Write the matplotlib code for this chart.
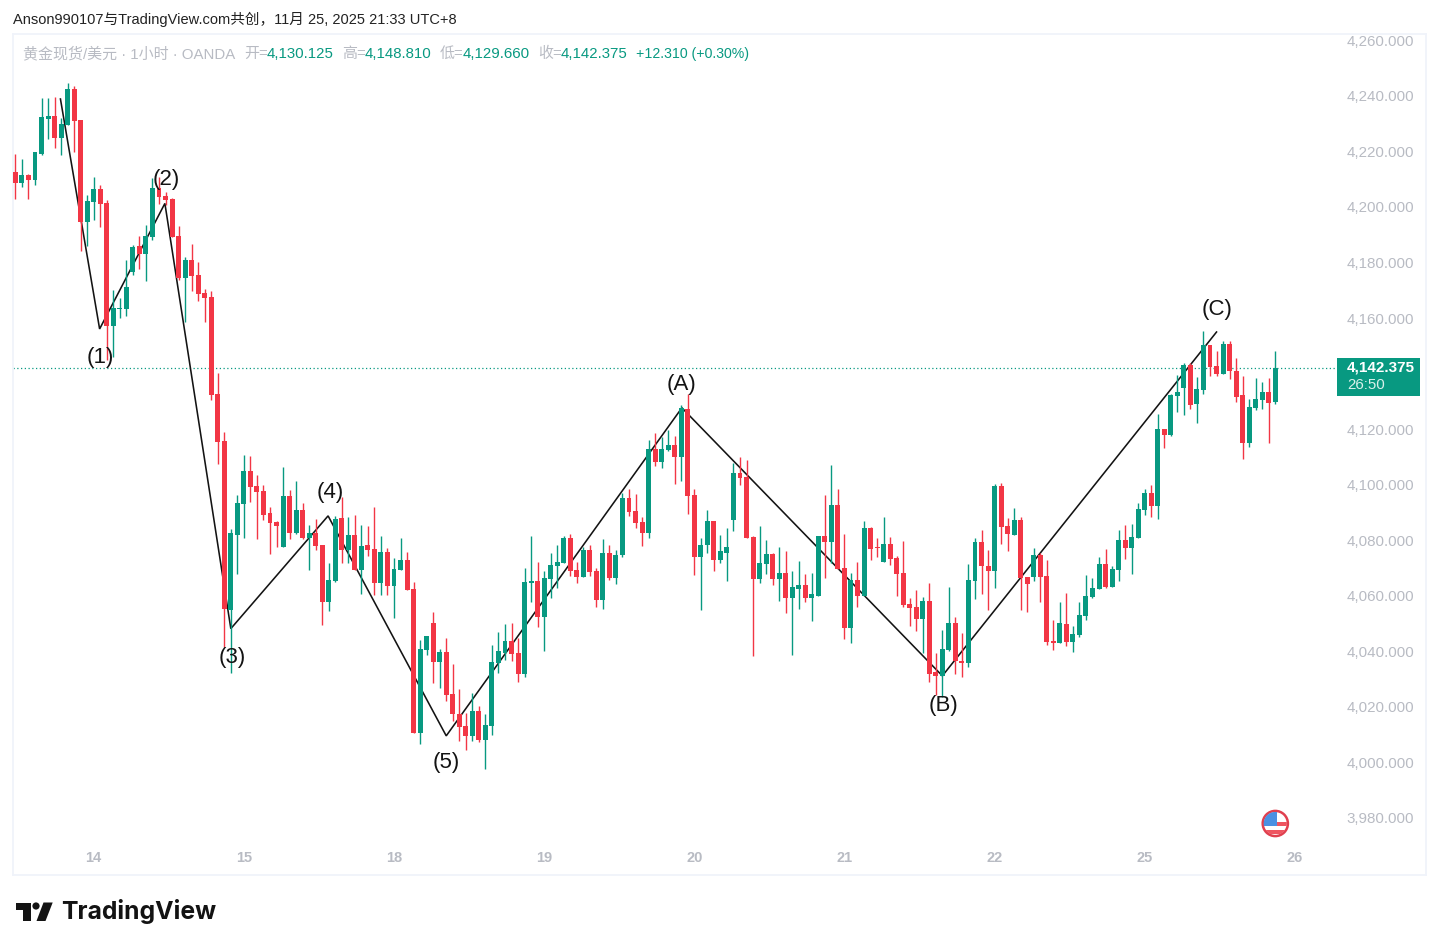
#!/usr/bin/env python3
"""XAUUSD 1h candles with a hand drawn wave count, TradingView snapshot look."""

import matplotlib
matplotlib.use("Agg")
import matplotlib.pyplot as plt
from matplotlib.patches import Circle, Polygon, Rectangle
from matplotlib.transforms import ScaledTranslation

plt.rcParams["font.family"] = ["Liberation Sans", "Noto Sans CJK SC"]

UP = "#089981"
DOWN = "#f23645"
GREY = "#b8bbc3"
BORDER = "#f0f3fa"

opens = [
    4213.1, 4209.3, 4212.0, 4210.2, 4219.7, 4232.2, 4233.3, 4225.3, 4230.0, 4243.0,
    4231.8, 4195.1, 4202.3, 4207.0, 4201.9, 4157.6, 4163.8, 4163.8, 4177.1, 4186.4,
    4183.6, 4189.7, 4207.3, 4204.4, 4203.4, 4190.0, 4174.9, 4181.4, 4176.0, 4169.5,
    4168.1, 4133.2, 4116.2, 4055.5, 4082.4, 4093.6, 4105.4, 4100.0, 4098.2, 4090.3,
    4087.1, 4078.1, 4096.4, 4083.1, 4091.4, 4081.3, 4083.1, 4078.8, 4058.3, 4065.8,
    4088.5, 4077.0, 4082.4, 4069.8, 4078.8, 4077.4, 4065.1, 4076.3, 4064.0, 4069.8,
    4073.4, 4063.0, 4011.2, 4041.0, 4050.7, 4036.7, 4040.3, 4025.2, 4018.0, 4013.6,
    4010.0, 4019.0, 4008.6, 4013.6, 4036.3, 4039.9, 4044.2, 4039.9, 4032.4, 4065.1,
    4065.8, 4052.9, 4066.6, 4071.2, 4072.3, 4081.3, 4069.8, 4067.3, 4077.0, 4069.4,
    4059.0, 4075.9, 4066.9, 4075.2, 4095.8, 4091.0, 4087.1, 4083.1, 4113.4, 4108.7,
    4113.0, 4114.8, 4110.5, 4127.8, 4096.8, 4074.5, 4078.8, 4087.4, 4073.4, 4075.9,
    4087.8, 4104.7, 4103.3, 4081.7, 4066.6, 4072.0, 4075.6, 4066.6, 4068.7, 4059.7,
    4063.0, 4064.4, 4059.7, 4060.4, 4082.0, 4079.9, 4093.2, 4070.5, 4048.9, 4066.2,
    4060.4, 4084.9, 4078.1, 4072.7, 4079.2, 4074.1, 4068.7, 4057.6, 4056.5, 4052.2,
    4058.6, 4033.1, 4031.6, 4041.0, 4050.7, 4037.0, 4036.3, 4065.8, 4079.9, 4071.2,
    4069.4, 4100.0, 4085.6, 4082.4, 4087.8, 4067.3, 4067.3, 4075.2, 4067.6, 4044.2,
    4043.5, 4050.4, 4043.9, 4046.4, 4053.2, 4060.1, 4063.0, 4072.0, 4063.7, 4069.8,
    4080.6, 4077.7, 4081.3, 4091.4, 4097.5, 4092.9, 4120.6, 4118.4, 4132.4, 4135.3,
    4143.6, 4129.6, 4134.6, 4150.8, 4143.2, 4140.4, 4151.2, 4141.4, 4132.8, 4115.5,
    4128.1, 4131.0, 4133.9, 4130.125,
]
highs = [
    4219.6, 4217.8, 4212.4, 4220.3, 4239.7, 4239.7, 4240.0, 4232.5, 4245.0, 4244.0,
    4231.8, 4205.0, 4211.2, 4208.4, 4203.2, 4170.6, 4167.6, 4181.4, 4186.8, 4190.0,
    4194.0, 4210.8, 4211.4, 4205.9, 4203.7, 4193.6, 4182.4, 4187.2, 4180.7, 4171.1,
    4170.2, 4140.6, 4119.4, 4084.4, 4096.8, 4111.2, 4110.8, 4104.0, 4100.4, 4092.5,
    4087.4, 4106.9, 4098.6, 4101.8, 4093.9, 4086.0, 4088.2, 4078.8, 4072.3, 4089.2,
    4096.1, 4088.9, 4089.6, 4086.0, 4085.6, 4092.5, 4082.0, 4077.7, 4074.1, 4081.3,
    4076.3, 4065.5, 4044.6, 4046.0, 4054.7, 4041.4, 4045.3, 4036.0, 4027.0, 4018.3,
    4025.5, 4020.8, 4018.0, 4042.8, 4047.5, 4050.4, 4050.7, 4045.3, 4070.5, 4082.0,
    4072.7, 4069.4, 4075.9, 4078.8, 4082.0, 4082.8, 4072.7, 4078.1, 4078.8, 4070.5,
    4081.0, 4078.8, 4077.0, 4097.7, 4098.9, 4097.2, 4088.9, 4116.6, 4119.1, 4117.7,
    4120.2, 4118.0, 4129.2, 4133.2, 4099.0, 4081.3, 4091.4, 4087.4, 4082.4, 4084.9,
    4108.2, 4110.5, 4109.4, 4082.0, 4085.6, 4080.6, 4075.9, 4078.1, 4076.6, 4069.4,
    4073.0, 4068.4, 4068.7, 4082.0, 4096.8, 4107.6, 4099.0, 4082.8, 4068.7, 4072.7,
    4087.4, 4085.3, 4081.3, 4088.9, 4081.7, 4074.8, 4080.2, 4059.7, 4062.6, 4060.1,
    4065.1, 4039.9, 4048.2, 4063.7, 4052.9, 4047.1, 4072.0, 4081.3, 4084.2, 4077.0,
    4100.8, 4101.1, 4088.5, 4092.1, 4088.9, 4067.4, 4077.7, 4075.9, 4073.4, 4051.8,
    4058.3, 4061.5, 4049.6, 4058.3, 4068.0, 4066.9, 4074.5, 4077.4, 4071.2, 4084.2,
    4086.0, 4086.4, 4093.8, 4099.0, 4100.4, 4126.0, 4120.6, 4133.2, 4140.0, 4144.3,
    4144.3, 4139.3, 4155.8, 4150.8, 4148.6, 4152.2, 4152.2, 4146.1, 4139.6, 4131.4,
    4138.9, 4137.5, 4138.9, 4148.81,
]
lows = [
    4203.5, 4207.8, 4203.5, 4208.4, 4219.3, 4225.0, 4221.7, 4219.2, 4230.0, 4220.4,
    4184.6, 4186.4, 4195.8, 4193.3, 4145.4, 4146.6, 4160.4, 4161.2, 4176.0, 4178.2,
    4173.8, 4188.6, 4201.6, 4201.2, 4189.7, 4174.2, 4159.2, 4170.2, 4166.6, 4159.1,
    4131.0, 4108.0, 4042.2, 4032.6, 4068.4, 4081.3, 4094.3, 4081.0, 4087.8, 4075.6,
    4078.1, 4078.1, 4081.0, 4082.8, 4081.0, 4069.8, 4077.0, 4050.0, 4055.0, 4065.6,
    4072.3, 4072.3, 4069.8, 4061.2, 4074.8, 4060.8, 4060.8, 4060.8, 4052.5, 4069.8,
    4062.6, 4011.2, 4007.2, 4039.2, 4029.1, 4027.3, 4022.6, 4015.4, 4008.2, 4005.0,
    4008.2, 4007.9, 3998.2, 4010.4, 4032.7, 4037.4, 4037.0, 4029.5, 4031.3, 4058.3,
    4049.3, 4040.6, 4059.7, 4063.3, 4072.2, 4067.6, 4065.1, 4067.3, 4067.6, 4056.5,
    4055.8, 4066.2, 4064.8, 4074.5, 4089.3, 4085.0, 4078.4, 4081.3, 4107.2, 4106.5,
    4112.5, 4100.8, 4101.8, 4090.0, 4068.0, 4055.4, 4075.9, 4069.4, 4072.3, 4065.8,
    4083.8, 4100.4, 4081.3, 4038.8, 4065.1, 4068.4, 4064.4, 4058.6, 4054.3, 4039.2,
    4055.8, 4058.3, 4051.4, 4060.4, 4066.9, 4072.3, 4070.2, 4045.0, 4043.5, 4056.5,
    4060.4, 4073.4, 4074.5, 4072.7, 4071.6, 4060.4, 4056.5, 4049.6, 4047.8, 4039.9,
    4029.5, 4024.8, 4024.2, 4040.6, 4032.4, 4031.3, 4034.9, 4059.4, 4061.2, 4055.4,
    4063.3, 4079.2, 4076.6, 4082.4, 4055.4, 4054.7, 4065.8, 4058.3, 4042.8, 4041.0,
    4043.5, 4042.4, 4040.3, 4045.7, 4051.8, 4059.7, 4063.0, 4063.3, 4063.7, 4065.8,
    4073.8, 4068.4, 4081.3, 4089.6, 4088.9, 4088.2, 4113.7, 4118.0, 4126.7, 4125.6,
    4127.8, 4122.7, 4133.2, 4139.6, 4139.6, 4140.4, 4138.6, 4130.3, 4109.8, 4114.1,
    4127.4, 4127.8, 4115.5, 4129.66,
]
closes = [
    4209.3, 4211.9, 4210.2, 4220.3, 4232.9, 4233.3, 4225.3, 4230.4, 4243.0, 4231.4,
    4195.1, 4202.6, 4207.0, 4201.6, 4157.6, 4164.1, 4164.1, 4171.7, 4186.1, 4183.6,
    4190.0, 4207.3, 4204.1, 4203.0, 4189.7, 4174.9, 4181.4, 4175.6, 4169.2, 4167.7,
    4133.0, 4116.0, 4055.9, 4083.1, 4093.9, 4105.4, 4099.7, 4097.9, 4089.6, 4086.7,
    4085.6, 4096.4, 4083.1, 4091.4, 4081.3, 4083.1, 4078.4, 4058.3, 4066.2, 4088.2,
    4077.0, 4082.4, 4069.8, 4078.4, 4077.0, 4065.1, 4076.3, 4064.0, 4070.2, 4073.4,
    4062.6, 4011.2, 4041.4, 4046.0, 4036.7, 4040.3, 4024.8, 4018.0, 4013.3, 4010.0,
    4019.0, 4008.6, 4014.0, 4036.7, 4040.6, 4044.2, 4039.6, 4032.4, 4065.5, 4065.8,
    4052.9, 4066.9, 4071.6, 4072.7, 4081.3, 4069.4, 4067.3, 4077.0, 4069.1, 4059.0,
    4075.9, 4066.9, 4075.2, 4095.8, 4090.8, 4086.7, 4083.1, 4113.4, 4108.7, 4113.4,
    4114.8, 4110.5, 4128.1, 4096.4, 4074.5, 4078.8, 4087.4, 4073.4, 4076.6, 4078.1,
    4104.7, 4102.9, 4081.3, 4066.6, 4072.3, 4075.6, 4066.6, 4068.7, 4059.7, 4063.7,
    4064.4, 4059.7, 4061.2, 4082.0, 4079.9, 4093.2, 4070.2, 4048.9, 4066.2, 4060.4,
    4084.9, 4077.4, 4077.7, 4079.2, 4073.8, 4068.4, 4057.2, 4056.1, 4052.2, 4058.6,
    4032.4, 4031.6, 4041.4, 4050.7, 4037.0, 4036.4, 4066.2, 4079.9, 4071.2, 4069.4,
    4100.0, 4085.3, 4082.8, 4087.8, 4066.9, 4064.8, 4075.2, 4067.3, 4043.9, 4043.5,
    4050.7, 4043.9, 4046.8, 4053.6, 4060.4, 4063.3, 4072.0, 4063.7, 4070.2, 4080.6,
    4077.7, 4081.7, 4091.8, 4097.5, 4092.9, 4120.6, 4118.4, 4132.8, 4133.9, 4143.6,
    4129.2, 4135.0, 4150.8, 4142.9, 4140.4, 4151.2, 4141.4, 4132.1, 4115.5, 4128.5,
    4131.4, 4133.9, 4129.9, 4142.375,
]

# wave count: bar position, price
wave_x = [6.9, 12.9, 22.9, 33.0, 47.9, 66.0, 102.1, 142.0, 184.0]
wave_y = [4239.4, 4156.6, 4201.8, 4048.7, 4089.3, 4010.1, 4128.2, 4031.7, 4155.5]
wave_labels = ["", "(1)", "(2)", "(3)", "(4)", "(5)", "(A)", "(B)", "(C)"]
label_shift = [(0, 0), (1, -29), (1, 23.5), (1, -29), (2, 23.5), (0, -27), (0, 23.5), (1, -30), (1, 22.5)]

day_pos = [12, 35, 58, 81, 104, 127, 150, 173, 196]
day_labels = ["14", "15", "18", "19", "20", "21", "22", "25", "26"]
price_ticks = [3980, 4000, 4020, 4040, 4060, 4080, 4100, 4120, 4160, 4180, 4200, 4220, 4240, 4260]
last_price = 4142.375

W, H = 1439, 950
fig = plt.figure(figsize=(W / 100, H / 100), dpi=100, facecolor="white")

# chart panel sits at pixel box 13..1426 x 34..875
ax = fig.add_axes([13 / W, (H - 875) / H, (1426 - 13) / W, (875 - 34) / H])
ax.set_xlim(-0.368, 216.09)
ax.set_ylim(3960.0, 4262.8)
for s in ax.spines.values():
    s.set_color(BORDER)
    s.set_linewidth(1.3)

ax.plot(wave_x, wave_y, color="#131313", lw=1.15, zorder=2, solid_joinstyle="miter")

# candles
bars = range(len(opens))
colors = [UP if c >= o else DOWN for o, c in zip(opens, closes)]
ax.vlines(bars, lows, highs, colors=colors, lw=1.0, zorder=3)
ax.bar(bars, [abs(c - o) for o, c in zip(opens, closes)],
       bottom=[min(o, c) for o, c in zip(opens, closes)],
       width=0.76, color=colors, linewidth=0, zorder=4)

# last price line stops at the price tag
ax.plot([-0.368, 202.4], [last_price, last_price], color=UP, lw=0.9,
        linestyle=(0, (1, 2)), zorder=1)

for x, y, text, shift in zip(wave_x, wave_y, wave_labels, label_shift):
    if text:
        ax.annotate(text, xy=(x, y), xytext=shift, textcoords="offset pixels",
                    ha="center", va="center", fontsize=16, color="#131313", zorder=6)

ax.set_xticks(day_pos)
ax.set_xticklabels(day_labels, fontsize=10.5, fontweight="bold", color=GREY)
ax.tick_params(axis="x", length=0, pad=-17.0)
ax.yaxis.tick_right()
ax.set_yticks(price_ticks)
ax.set_yticklabels([f"{p:,.3f}" for p in price_ticks], fontsize=10.9, color=GREY, ha="right")
ax.tick_params(axis="y", length=0, pad=-8.6)
nudge = ScaledTranslation(0, 1.5 / 100, fig.dpi_scale_trans)
for lab in ax.get_yticklabels():
    lab.set_transform(lab.get_transform() + nudge)

# everything below is placed in plain pixels
over = fig.add_axes([0, 0, 1, 1], facecolor="none")
over.set_xlim(0, W)
over.set_ylim(H, 0)
over.axis("off")

over.text(13, 19.5, "Anson990107与TradingView.com共创，11月 25, 2025 21:33 UTC+8",
          fontsize=10.5, color="#222222", va="center")

legend_parts = [
    (23, "黄金现货/美元 · 1小时 · OANDA", GREY, 10.8),
    (244, "开=", GREY, 10.8), (266.5, "4,130.125", UP, 10.8),
    (342, "高=", GREY, 10.8), (364.5, "4,148.810", UP, 10.8),
    (440, "低=", GREY, 10.8), (462.5, "4,129.660", UP, 10.8),
    (538, "收=", GREY, 10.8), (560.5, "4,142.375", UP, 10.8),
    (636, "+12.310 (+0.30%)", UP, 10.2),
]
for x, text, col, size in legend_parts:
    over.text(x, 54, text, fontsize=size, color=col, va="center")

# price tag
over.add_patch(Rectangle((1337, 358), 83, 38, facecolor=UP, edgecolor="none"))
over.text(1347, 368, f"{last_price:,.3f}", fontsize=11, fontweight="bold", color="white", va="center")
over.text(1347, 385, "26:50", fontsize=10.8, color="#d9f0eb", va="center")

# US flag event marker
ring = Circle((1275.3, 823.5), 12.6, facecolor="white", edgecolor="#e0404f", lw=1.8, zorder=3)
over.add_patch(ring)
clip = Circle((1275.3, 823.5), 11.6, transform=over.transData)
flag_parts = [
    Rectangle((1262, 830), 27, 3.7, facecolor="#ee5560", edgecolor="none", zorder=4),
    Rectangle((1276, 822.3), 13, 3.4, facecolor="#ee5560", edgecolor="none", zorder=4),
    Rectangle((1262, 812), 15, 14, facecolor="#4a90e2", edgecolor="none", zorder=4),
]
for part in flag_parts:
    over.add_patch(part)
    part.set_clip_path(clip)

# TradingView logo
over.add_patch(Polygon([(16, 902.5), (31, 902.5), (31, 921), (22.5, 921), (22.5, 909.5), (16, 909.5)],
                       facecolor="#131313", edgecolor="none"))
over.add_patch(Circle((36, 906), 3.6, facecolor="#131313", edgecolor="none"))
over.add_patch(Polygon([(43.5, 902.5), (52.7, 902.5), (45.5, 921), (36.5, 921)],
                       facecolor="#131313", edgecolor="none"))
over.text(61.5, 912, "TradingView", fontsize=17.8, fontweight="bold", color="#131313",
          va="center", family=["Inter"])

fig.savefig("out.png", dpi=100)
